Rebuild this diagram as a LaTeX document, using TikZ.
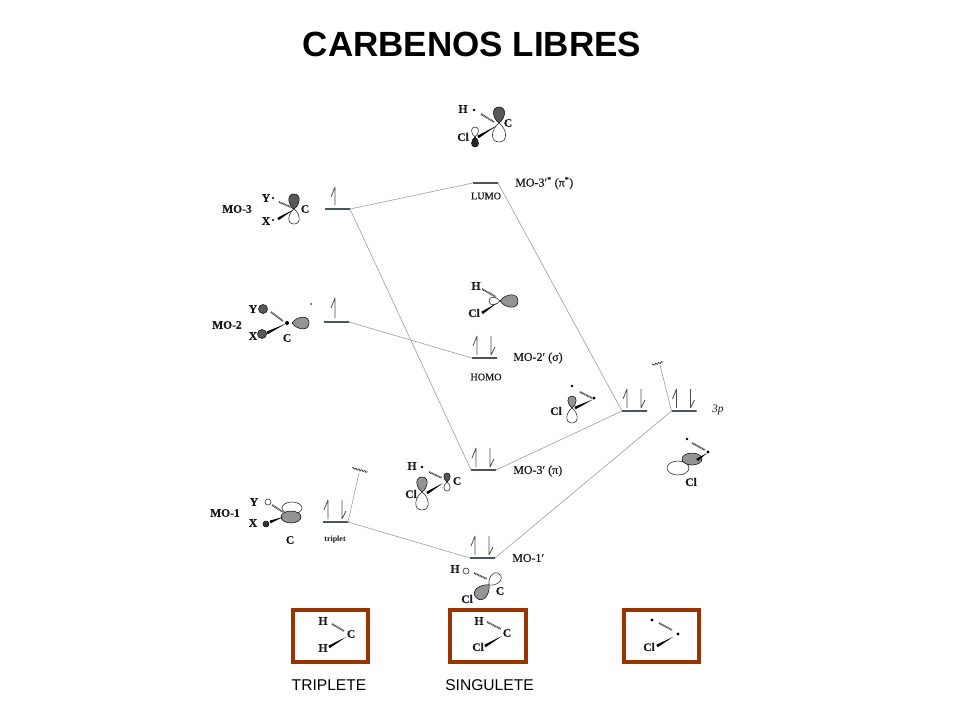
\documentclass[tikz,border=0pt]{standalone}
\usepackage{fontspec}
\setmainfont{Liberation Serif}
\setsansfont{Liberation Sans}
\newfontfamily\scanfont[FakeBold=0.35]{Liberation Serif}
\usetikzlibrary{calc,decorations.pathmorphing}

\definecolor{framebrown}{HTML}{993300}
\definecolor{levelgray}{HTML}{4A5562}
\definecolor{linkgray}{HTML}{9A9DA3}
\definecolor{spingray}{HTML}{4A4E54}

\tikzset{
	levelbar/.style={draw=levelgray, line width=1.1pt, minimum width=25pt, minimum height=0pt, inner sep=0pt, outer sep=0pt},
	link/.style={draw=linkgray, line width=0.6pt},
	spin/.style={draw=spingray, line width=0.8pt, miter limit=2},
	orblabel/.style={inner sep=0pt, font=\fontsize{11.5}{13}\selectfont\scanfont\bfseries, text=black!90},
	molabel/.style={inner sep=0pt, anchor=west, font=\fontsize{12}{14}\selectfont\scanfont, text=black!90},
	smalllabel/.style={inner sep=0pt, font=\fontsize{10.2}{12}\selectfont\scanfont, text=black!90},
	lobedark/.style={draw=black, line width=0.5pt, fill=black!65},
	lobemid/.style={draw=black, line width=0.5pt, fill=black!42},
	lobeopen/.style={draw=black!80, line width=0.6pt, fill=white},
	hashbond/.style={draw=black!70, line width=1.8pt, dash pattern=on 1pt off 0.6pt},
	framebox/.style={draw=framebrown, line width=4pt, inner sep=0pt},
	wavy/.style={draw=black!75, line width=0.7pt, decorate, decoration={snake, amplitude=0.9pt, segment length=3pt}}
}

% teardrop with its tip at #2, pointing along angle #3, length #4
\newcommand{\lobe}[4]{\draw[#1, shift={(#2)}, rotate=#3, scale=#4] (0,0) .. controls (.3,.42) and (1,.5) .. (1,0) .. controls (1,-.5) and (.3,-.42) .. (0,0);}
% solid bond, wide at its outer end
\newcommand{\wedgebond}[2]{\fill (#1) -- ($(#2)!1.4pt!90:(#1)$) -- ($(#2)!1.4pt!-90:(#1)$) -- cycle;}

\begin{document}
\begin{tikzpicture}[x=1pt,y=-1pt]
	\fill[white] (0,0) rectangle (960,720);
	\useasboundingbox (0,0) rectangle (960,720);

	% Draw title
	\node[inner sep=0pt, font=\sffamily\bfseries\fontsize{35}{38}\selectfont] (title) at (472,44) {CARBENOS LIBRES};

	% Draw levels
	\node[levelbar] (mothree) at (337.5,209) {};
	\node[levelbar] (motwo) at (336.5,322) {};
	\node[levelbar] (moone) at (335.5,522) {};
	\node[levelbar] (lumo) at (485.5,183) {};
	\node[levelbar] (homo) at (484.5,358) {};
	\node[levelbar] (mothreep) at (483.5,470) {};
	\node[levelbar] (moonep) at (482.5,558) {};
	\node[levelbar] (clleft) at (634.5,411) {};
	\node[levelbar] (clright) at (684,411) {};

	% Draw correlation lines
	\coordinate (tailleft) at (359,473);
	\coordinate (tailright) at (660,365);
	\draw[link] (mothree.east) -- (lumo.west);
	\draw[link] (mothree.east) -- (mothreep.west);
	\draw[link] (motwo.east) -- (homo.west);
	\draw[link] (moone.east) -- (moonep.west);
	\draw[link] (moone.east) -- (tailleft);
	\draw[link] (lumo.east) -- (clleft.west);
	\draw[link] (mothreep.east) -- (clleft.west);
	\draw[link] (moonep.east) -- (clright.west);
	\draw[link] (clright.west) -- (tailright);
	\draw[wavy] (352,468) -- (368,472);
	\draw[wavy] (652,365) -- (663,362);

	% Draw electrons
	\draw[spin, shift={(mothree.center)}] (-2.5,-4) -- (-2.5,-22) -- (-6.5,-12);
	\draw[spin, shift={(motwo.center)}] (-1.5,-4) -- (-1.5,-24) -- (-5.5,-14);
	\foreach \lev in {moone,homo,mothreep,moonep,clleft,clright} {
		\draw[spin, shift={(\lev.center)}] (-7.5,-3) -- (-7.5,-22) -- (-11.5,-12);
		\draw[spin, shift={(\lev.center)}] (6.5,-22) -- (6.5,-3) -- (10.5,-11);
	}

	% Draw MO labels
	\node[orblabel] (lblmothree) at (237,209) {MO-3};
	\node[orblabel] (lblmotwo) at (227,325) {MO-2};
	\node[orblabel] (lblmoone) at (225,513) {MO-1};
	\node[molabel] (lbllumo) at (515,183) {MO-3′\textsuperscript{*} (π\textsuperscript{*})};
	\node[molabel] (lblhomo) at (513,358) {MO-2′ (σ)};
	\node[molabel] (lblpi) at (513,471) {MO-3′ (π)};
	\node[molabel] (lblmoonep) at (512,558) {MO-1′};
	\node[smalllabel] (lumotext) at (486,196) {LUMO};
	\node[smalllabel] (homotext) at (486,377) {HOMO};
	\node[smalllabel, font=\fontsize{8}{10}\selectfont\bfseries] (triplettext) at (335,540) {triplet};
	\node[molabel, font=\fontsize{11.5}{12}\selectfont\itshape] (lblthreep) at (712,410) {3p};

	% Draw MO-3 orbital
	\node[orblabel] (yA) at (266,198) {Y};
	\node[orblabel] (xA) at (266,221) {X};
	\node[orblabel] (cA) at (305,209) {C};
	\fill (273,198) circle(1.2) (273,220) circle(1.2);
	\lobe{lobedark}{294,209}{90}{15}
	\lobe{lobeopen}{294,209}{-90}{15}
	\draw[hashbond] (279,202) -- (293,208);
	\wedgebond{293,210}{278,219}

	% Draw MO-2 orbital
	\node[orblabel] (yB) at (253,309) {Y};
	\node[orblabel] (xB) at (253,336) {X};
	\node[orblabel] (cB) at (287,338) {C};
	\fill[lobemid, fill=black!65] (263,309) circle(4.5) (262,334) circle(4.5);
	\draw[hashbond] (271,312) -- (283,321);
	\wedgebond{286,323.5}{267,333}
	\fill (287,323) circle(2) (311,304) circle(0.8);
	\lobe{lobemid}{292,323}{0}{17}

	% Draw MO-1 orbital
	\node[orblabel] (yC) at (254,502) {Y};
	\node[orblabel] (xC) at (253,523) {X};
	\node[orblabel] (cC) at (290,540) {C};
	\draw[lobeopen] (292,508) ellipse(10 and 6);
	\draw[hashbond] (272,505) -- (283,512);
	\draw[lobemid] (291,517) ellipse(10 and 6);
	\draw[lobeopen] (268,502) circle(3);
	\fill[lobedark, fill=black!80] (266,524) circle(3);
	\wedgebond{283,517}{270,522}

	% Draw MO-3' star orbital (top)
	\node[orblabel] (hD) at (463,109) {H};
	\node[orblabel] (clD) at (463,137) {Cl};
	\node[orblabel] (cD) at (508,123) {C};
	\fill (474,110) circle(1.4);
	\draw[hashbond] (481,114) -- (494,122);
	\lobe{lobedark}{499,123}{90}{16}
	\lobe{lobeopen}{499,123}{-90}{19}
	\wedgebond{497,125.5}{478,137}
	\lobe{lobeopen}{475,137}{90}{10}
	\lobe{lobedark, fill=black!85}{475,137}{-90}{10}

	% Draw MO-2' orbital
	\node[orblabel] (hE) at (476,286) {H};
	\node[orblabel] (clE) at (474,313) {Cl};
	\draw[hashbond] (482,289) -- (496,297);
	\lobe{lobeopen}{500,301}{180}{11}
	\lobe{lobemid}{500,301}{0}{18}
	\wedgebond{497,303}{482,313}

	% Draw MO-3' orbital
	\node[orblabel] (hF) at (412,466) {H};
	\node[orblabel] (clF) at (411,494) {Cl};
	\node[orblabel] (cF) at (457,481) {C};
	\fill (422,467) circle(1.4);
	\draw[hashbond] (429,472) -- (442,478);
	\lobe{lobedark}{447,482}{90}{9}
	\lobe{lobeopen}{447,482}{-90}{9}
	\lobe{lobemid}{422,492}{90}{15}
	\lobe{lobeopen}{422,492}{-90}{18}
	\wedgebond{443,483}{427,493}

	% Draw MO-1' orbital
	\node[orblabel] (hG) at (455,569) {H};
	\node[orblabel] (clG) at (467,599) {Cl};
	\node[orblabel] (cG) at (500,591) {C};
	\draw[lobeopen] (466,571) circle(3);
	\draw[hashbond] (474,573) -- (487,579);
	\lobe{lobeopen}{489,585}{45}{15}
	\lobe{lobemid}{489,585}{-135}{18}

	% Draw Cl orbitals
	\node[orblabel] (clH) at (556,411) {Cl};
	\fill (572,386) circle(1.4) (594,398) circle(1.7);
	\draw[hashbond] (580,392) -- (592,398);
	\lobe{lobemid}{572,408}{90}{12}
	\lobe{lobeopen}{572,408}{-90}{15}
	\wedgebond{593,399.5}{575,408}
	\node[orblabel] (clI) at (691,482) {Cl};
	\fill (687,439) circle(1.4) (708,452) circle(1.7);
	\draw[hashbond] (692,443) -- (705,450);
	\draw[lobeopen] (678,468) ellipse(11 and 7);
	\draw[lobemid] (692,459) ellipse(10 and 6);
	\wedgebond{707,453}{697,460}

	% Draw boxed carbenes
	\node[framebox, minimum width=75pt, minimum height=52pt] (boxtriplet) at (330.5,636) {};
	\node[orblabel] (hJ) at (323,621) {H};
	\node[orblabel] (hK) at (323,648) {H};
	\node[orblabel] (cJ) at (351,634) {C};
	\draw[hashbond] (332,624) -- (344,631);
	\wedgebond{346,637}{329,647}

	\node[framebox, minimum width=76pt, minimum height=52pt] (boxsinglet) at (488,636) {};
	\node[orblabel] (hL) at (479,621) {H};
	\node[orblabel] (clL) at (478,647) {Cl};
	\node[orblabel] (cL) at (507,633) {C};
	\draw[hashbond] (487,622) -- (501,629);
	\wedgebond{502,636}{485,646}

	\node[framebox, minimum width=75pt, minimum height=52pt] (boxradical) at (661.5,636) {};
	\node[orblabel] (clM) at (649,647) {Cl};
	\fill (652,620) circle(1.7) (678,634) circle(1.7);
	\draw[hashbond] (659,623) -- (672,630);
	\wedgebond{673,637}{657,646}

	% Draw captions
	\node[inner sep=0pt, font=\sffamily\fontsize{15.6}{18}\selectfont] (captriplet) at (329,685) {TRIPLETE};
	\node[inner sep=0pt, font=\sffamily\fontsize{15.6}{18}\selectfont] (capsinglet) at (489.5,685) {SINGULETE};
\end{tikzpicture}
\end{document}
